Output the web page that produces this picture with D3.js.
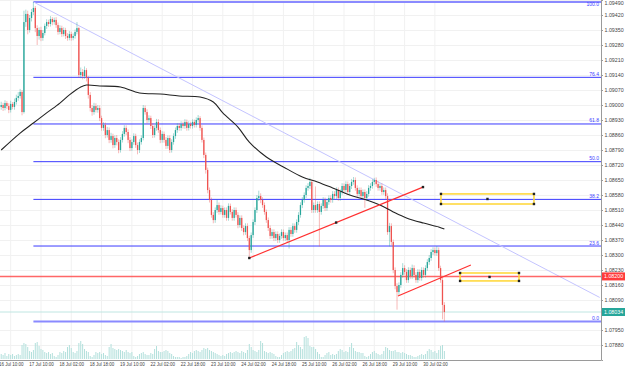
<!DOCTYPE html>
<html><head><meta charset="utf-8">
<script src="https://cdn.jsdelivr.net/npm/d3@7"></script>
<style>body{margin:0;background:#fff}svg{display:block}text{font-family:"Liberation Sans",Arial,sans-serif}</style>
</head><body><svg id="c" width="625" height="369"></svg>
<script>
// ---- data (EURUSD-like H1 bars) ----
const opens=[
1.08991,1.09000,1.08986,1.09009,1.08995,1.08977,1.09005,1.08991,1.09014,1.09033,
1.09042,1.09061,1.08967,1.09387,1.09425,1.09350,1.09406,1.09434,1.09453,1.09359,
1.09322,1.09350,1.09313,1.09336,1.09369,1.09387,1.09378,1.09401,1.09387,1.09397,
1.09373,1.09341,1.09359,1.09331,1.09350,1.09322,1.09313,1.09331,1.09313,1.09322,
1.09341,1.09359,1.09140,1.09154,1.09135,1.09163,1.09126,1.09047,1.08986,1.08967,
1.08995,1.08977,1.08986,1.08939,1.08893,1.08907,1.08860,1.08883,1.08837,1.08855,
1.08813,1.08846,1.08827,1.08790,1.08837,1.08865,1.08893,1.08874,1.08837,1.08799,
1.08827,1.08855,1.08813,1.08790,1.08827,1.08846,1.08986,1.08967,1.08930,1.08939,
1.08902,1.08860,1.08893,1.08921,1.08883,1.08837,1.08865,1.08837,1.08809,1.08846,
1.08790,1.08827,1.08855,1.08883,1.08902,1.08893,1.08911,1.08902,1.08921,1.08893,
1.08911,1.08902,1.08921,1.08907,1.08930,1.08939,1.08893,1.08837,1.08767,1.08697,
1.08603,1.08557,1.08487,1.08463,1.08510,1.08533,1.08501,1.08519,1.08487,1.08510,
1.08473,1.08529,1.08501,1.08473,1.08510,1.08487,1.08440,1.08473,1.08426,1.08407,
1.08435,1.08379,1.08323,1.08393,1.08454,1.08510,1.08566,1.08575,1.08557,1.08533,
1.08501,1.08463,1.08426,1.08389,1.08407,1.08379,1.08398,1.08370,1.08389,1.08407,
1.08379,1.08393,1.08370,1.08417,1.08398,1.08435,1.08417,1.08454,1.08487,1.08533,
1.08557,1.08580,1.08613,1.08622,1.08641,1.08510,1.08533,1.08510,1.08538,1.08501,
1.08529,1.08557,1.08519,1.08547,1.08566,1.08557,1.08585,1.08575,1.08603,1.08566,
1.08594,1.08622,1.08603,1.08631,1.08594,1.08622,1.08641,1.08650,1.08613,1.08585,
1.08603,1.08575,1.08594,1.08566,1.08585,1.08613,1.08622,1.08641,1.08650,1.08631,
1.08613,1.08622,1.08594,1.08603,1.08575,1.08407,1.08435,1.08361,1.08230,1.08155,
1.08127,1.08160,1.08207,1.08239,1.08221,1.08183,1.08230,1.08202,1.08239,1.08207,
1.08183,1.08221,1.08193,1.08230,1.08207,1.08239,1.08267,1.08286,1.08314,1.08323,
1.08309,1.08323,1.08239,1.08183,1.08067];
const highs=[
1.09015,1.09010,1.09022,1.09018,1.09008,1.09020,1.09014,1.09030,1.09048,1.09060,
1.09075,1.09070,1.09440,1.09445,1.09440,1.09420,1.09448,1.09481,1.09462,1.09372,
1.09362,1.09365,1.09350,1.09380,1.09400,1.09398,1.09415,1.09410,1.09408,1.09410,
1.09385,1.09372,1.09370,1.09362,1.09360,1.09335,1.09345,1.09342,1.09334,1.09352,
1.09387,1.09365,1.09175,1.09168,1.09180,1.09172,1.09135,1.09060,1.09000,1.09010,
1.09008,1.09000,1.08998,1.08950,1.08920,1.08918,1.08898,1.08895,1.08870,1.08866,
1.08858,1.08860,1.08840,1.08850,1.08878,1.08906,1.08905,1.08886,1.08850,1.08840,
1.08868,1.08866,1.08825,1.08840,1.08858,1.09000,1.08998,1.08980,1.08952,1.08950,
1.08915,1.08905,1.08935,1.08934,1.08895,1.08878,1.08876,1.08850,1.08858,1.08858,
1.08840,1.08868,1.08895,1.08915,1.08914,1.08924,1.08922,1.08934,1.08932,1.08924,
1.08922,1.08933,1.08932,1.08942,1.08953,1.08948,1.08905,1.08848,1.08778,1.08708,
1.08615,1.08568,1.08500,1.08522,1.08560,1.08545,1.08532,1.08530,1.08522,1.08522,
1.08541,1.08540,1.08514,1.08522,1.08522,1.08500,1.08485,1.08485,1.08438,1.08448,
1.08448,1.08390,1.08405,1.08466,1.08522,1.08580,1.08600,1.08588,1.08570,1.08545,
1.08512,1.08475,1.08438,1.08420,1.08420,1.08410,1.08410,1.08400,1.08420,1.08419,
1.08405,1.08405,1.08430,1.08430,1.08448,1.08447,1.08466,1.08500,1.08546,1.08570,
1.08592,1.08625,1.08635,1.08660,1.08652,1.08545,1.08620,1.08550,1.08550,1.08541,
1.08570,1.08568,1.08560,1.08578,1.08578,1.08598,1.08598,1.08616,1.08615,1.08606,
1.08635,1.08634,1.08644,1.08643,1.08634,1.08655,1.08664,1.08662,1.08625,1.08615,
1.08615,1.08606,1.08606,1.08598,1.08626,1.08635,1.08654,1.08660,1.08662,1.08643,
1.08634,1.08634,1.08615,1.08615,1.08588,1.08450,1.08448,1.08372,1.08242,1.08168,
1.08172,1.08220,1.08262,1.08252,1.08234,1.08243,1.08242,1.08255,1.08252,1.08220,
1.08234,1.08233,1.08243,1.08242,1.08252,1.08280,1.08300,1.08327,1.08336,1.08335,
1.08342,1.08335,1.08250,1.08195,1.08080];
const lows=[
1.08978,1.08972,1.08975,1.08982,1.08962,1.08965,1.08980,1.08978,1.09002,1.09020,
1.09030,1.08952,1.08960,1.09365,1.09330,1.09338,1.09390,1.09420,1.09340,1.09280,
1.09305,1.09298,1.09300,1.09325,1.09355,1.09365,1.09366,1.09372,1.09375,1.09360,
1.09328,1.09330,1.09318,1.09320,1.09308,1.09300,1.09302,1.09300,1.09302,1.09310,
1.09330,1.09128,1.09125,1.09120,1.09122,1.09110,1.09030,1.08970,1.08950,1.08955,
1.08965,1.08964,1.08925,1.08880,1.08880,1.08845,1.08848,1.08822,1.08824,1.08798,
1.08800,1.08812,1.08775,1.08778,1.08825,1.08852,1.08860,1.08822,1.08785,1.08786,
1.08814,1.08800,1.08770,1.08776,1.08815,1.08835,1.08955,1.08915,1.08918,1.08888,
1.08846,1.08848,1.08880,1.08870,1.08822,1.08824,1.08824,1.08795,1.08796,1.08776,
1.08778,1.08815,1.08842,1.08870,1.08880,1.08880,1.08890,1.08889,1.08880,1.08881,
1.08890,1.08890,1.08895,1.08895,1.08918,1.08880,1.08825,1.08752,1.08680,1.08588,
1.08545,1.08474,1.08448,1.08450,1.08497,1.08488,1.08489,1.08474,1.08474,1.08460,
1.08460,1.08489,1.08460,1.08460,1.08475,1.08425,1.08428,1.08412,1.08392,1.08394,
1.08365,1.08286,1.08310,1.08380,1.08440,1.08496,1.08552,1.08542,1.08520,1.08488,
1.08450,1.08412,1.08375,1.08376,1.08365,1.08366,1.08356,1.08357,1.08376,1.08366,
1.08366,1.08356,1.08330,1.08385,1.08385,1.08404,1.08404,1.08440,1.08474,1.08519,
1.08544,1.08566,1.08600,1.08608,1.08496,1.08497,1.08497,1.08497,1.08340,1.08488,
1.08516,1.08505,1.08506,1.08534,1.08544,1.08544,1.08562,1.08562,1.08553,1.08553,
1.08581,1.08590,1.08590,1.08580,1.08580,1.08608,1.08628,1.08600,1.08572,1.08572,
1.08562,1.08562,1.08520,1.08553,1.08572,1.08600,1.08609,1.08628,1.08618,1.08600,
1.08600,1.08581,1.08581,1.08562,1.08394,1.08340,1.08345,1.08215,1.08140,1.08045,
1.08114,1.08147,1.08194,1.08208,1.08170,1.08170,1.08189,1.08189,1.08194,1.08170,
1.08170,1.08180,1.08180,1.08194,1.08194,1.08226,1.08254,1.08273,1.08300,1.08296,
1.08296,1.08226,1.08170,1.08000,1.07990];
const closes=[
1.09000,1.08986,1.09009,1.08995,1.08977,1.09005,1.08991,1.09014,1.09033,1.09042,
1.09061,1.08967,1.09387,1.09425,1.09350,1.09406,1.09434,1.09453,1.09359,1.09322,
1.09350,1.09313,1.09336,1.09369,1.09387,1.09378,1.09401,1.09387,1.09397,1.09373,
1.09341,1.09359,1.09331,1.09350,1.09322,1.09313,1.09331,1.09313,1.09322,1.09341,
1.09359,1.09140,1.09154,1.09135,1.09163,1.09126,1.09047,1.08986,1.08967,1.08995,
1.08977,1.08986,1.08939,1.08893,1.08907,1.08860,1.08883,1.08837,1.08855,1.08813,
1.08846,1.08827,1.08790,1.08837,1.08865,1.08893,1.08874,1.08837,1.08799,1.08827,
1.08855,1.08813,1.08790,1.08827,1.08846,1.08986,1.08967,1.08930,1.08939,1.08902,
1.08860,1.08893,1.08921,1.08883,1.08837,1.08865,1.08837,1.08809,1.08846,1.08790,
1.08827,1.08855,1.08883,1.08902,1.08893,1.08911,1.08902,1.08921,1.08893,1.08911,
1.08902,1.08921,1.08907,1.08930,1.08939,1.08893,1.08837,1.08767,1.08697,1.08603,
1.08557,1.08487,1.08463,1.08510,1.08533,1.08501,1.08519,1.08487,1.08510,1.08473,
1.08529,1.08501,1.08473,1.08510,1.08487,1.08440,1.08473,1.08426,1.08407,1.08435,
1.08379,1.08323,1.08393,1.08454,1.08510,1.08566,1.08575,1.08557,1.08533,1.08501,
1.08463,1.08426,1.08389,1.08407,1.08379,1.08398,1.08370,1.08389,1.08407,1.08379,
1.08393,1.08370,1.08417,1.08398,1.08435,1.08417,1.08454,1.08487,1.08533,1.08557,
1.08580,1.08613,1.08622,1.08641,1.08510,1.08533,1.08510,1.08538,1.08501,1.08529,
1.08557,1.08519,1.08547,1.08566,1.08557,1.08585,1.08575,1.08603,1.08566,1.08594,
1.08622,1.08603,1.08631,1.08594,1.08622,1.08641,1.08650,1.08613,1.08585,1.08603,
1.08575,1.08594,1.08566,1.08585,1.08613,1.08622,1.08641,1.08650,1.08631,1.08613,
1.08622,1.08594,1.08603,1.08575,1.08407,1.08435,1.08361,1.08230,1.08155,1.08127,
1.08160,1.08207,1.08239,1.08221,1.08183,1.08230,1.08202,1.08239,1.08207,1.08183,
1.08221,1.08193,1.08230,1.08207,1.08239,1.08267,1.08286,1.08314,1.08323,1.08309,
1.08323,1.08239,1.08183,1.08067,1.08034];
const volumes=[
500,400,600,300,500,400,500,300,400,500,400,1400,1600,1500,1200,800,700,900,1600,1700,
1300,1000,900,700,600,700,500,600,300,200,400,700,600,800,700,1200,1400,1100,700,600,
800,1600,1800,1500,1000,800,700,300,200,400,700,600,700,500,600,400,300,1200,1500,1100,
1000,900,1000,900,800,700,900,700,600,700,300,200,300,500,600,700,500,400,400,600,
500,1000,1300,800,700,700,800,900,800,600,500,300,200,200,200,100,200,200,300,500,
700,600,800,900,800,700,900,1100,1000,1100,900,800,700,600,500,400,300,400,300,500,
600,700,600,700,800,700,600,800,700,600,900,1500,1200,900,800,700,900,1800,1600,800,
700,600,700,600,500,300,200,200,400,600,700,800,700,800,1000,1100,1700,1400,1200,1000,
2200,2300,2100,1300,1200,1200,1000,700,500,200,200,400,600,700,400,500,400,500,800,1000,
900,700,800,700,1200,1600,1100,800,700,700,600,600,300,200,300,500,700,800,600,500,
400,500,800,1200,1100,900,800,800,900,700,700,600,700,600,500,400,400,300,200,200,
300,400,500,400,500,800,1000,900,700,800,600,900,1300,1400,800];
// moving average (read at sampled bars)
const maIndex=[0,10,17,24,31,36,42,45,52,63,73,84,94,105,112,117,125,131,140,149,159,167,175,184,193,200,207,214,223,231,234];
const maValues=[1.08790,1.08869,1.08916,1.08963,1.09009,1.09047,1.09084,1.09093,1.09089,1.09084,1.09056,1.09051,1.09042,1.09037,1.09014,1.08963,1.08897,1.08827,1.08757,1.08711,1.08664,1.08641,1.08613,1.08580,1.08557,1.08533,1.08501,1.08473,1.08449,1.08431,1.08421];
const priceTicks=[1.09490,1.09420,1.09350,1.09280,1.09210,1.09140,1.09070,1.09000,1.08930,1.08860,1.08790,1.08720,1.08650,1.08580,1.08510,1.08440,1.08370,1.08300,1.08230,1.08160,1.08090,1.07950,1.07880];
const timeLabels=["16 Jul 10:00","17 Jul 10:00","18 Jul 02:00","18 Jul 18:00","19 Jul 10:00","22 Jul 02:00","22 Jul 18:00","23 Jul 10:00","24 Jul 02:00","24 Jul 18:00","25 Jul 10:00","26 Jul 02:00","26 Jul 18:00","29 Jul 10:00","30 Jul 02:00"];
const timeIndex=[5,21,37,53,69,85,101,117,133,149,165,181,197,213,229];
const fibRatios=[1,0.764,0.618,0.5,0.382,0.236,0];
const fibLabels=["100.0","76.4","61.8","50.0","38.2","23.6","0.0"];
const fibHigh=1.09481, fibLow=1.07990, fibStartIndex=17;
const trendLine=[[17,1.09481],[316,1.08102]];
const redSegments=[[[131,1.08286],[222.7,1.08617]],[[209.5,1.08109],[248,1.08253]]];
const boxes=[[232.2,281.3,1.08585,1.08538],[242.3,273.4,1.08216,1.08179]];
const alertPrice=1.08200, bidPrice=1.08034;

// ---- drawing ----
const svg=d3.select("#c");
const plotR=601, plotB=360;
const x=d3.scaleLinear().domain([-0.634,316.7]).range([0,plotR]);
const y=d3.scaleLinear().domain([1.07810,1.09490]).range([plotB,0]);
const vy=d3.scaleLinear().domain([0,2300]).range([359,336]);
const f5=d3.format(".5f");

svg.append("defs").append("clipPath").attr("id","clip").append("rect").attr("x",0).attr("y",0).attr("width",plotR).attr("height",plotB);
const g=svg.append("g").attr("clip-path","url(#clip)");

// grid
g.selectAll(".vg").data(timeIndex).join("line").attr("x1",d=>x(d)).attr("x2",d=>x(d)).attr("y1",0).attr("y2",plotB).attr("stroke","#f1f1f1").attr("stroke-width",1);
g.selectAll(".hg").data(priceTicks).join("line").attr("x1",0).attr("x2",plotR).attr("y1",d=>Math.round(y(d))+0.5).attr("y2",d=>Math.round(y(d))+0.5).attr("stroke","#f1f1f1").attr("stroke-width",1);

// volumes
g.selectAll(".vol").data(volumes).join("rect").attr("x",(d,i)=>x(i)-0.5).attr("width",1).attr("y",d=>vy(d)).attr("height",d=>vy(0)-vy(d)).attr("fill","#b3e0dc");

// fib levels
fibRatios.forEach((r,k)=>{
  const p=fibLow+r*(fibHigh-fibLow);
  const yy=y(p);
  const edge=(r===0||r===1);
  g.append("line").attr("x1",x(fibStartIndex)).attr("x2",plotR).attr("y1",yy).attr("y2",yy)
   .attr("stroke",edge?"#8a8aff":"#3a3aff").attr("stroke-width",edge?2:1);
  g.append("text").attr("x",599).attr("y",Math.max(yy-1.5,5.5)).attr("text-anchor","end").attr("font-size",5).attr("fill","#4040ff").text(fibLabels[k]);
});

// trend line
g.append("line").attr("x1",x(trendLine[0][0])).attr("y1",y(trendLine[0][1])).attr("x2",x(trendLine[1][0])).attr("y2",y(trendLine[1][1])).attr("stroke","#c4c4ff").attr("stroke-width",1);

// bid / alert lines
g.append("line").attr("x1",0).attr("x2",plotR).attr("y1",y(bidPrice)).attr("y2",y(bidPrice)).attr("stroke","#bfe6e2").attr("stroke-width",1);
g.append("line").attr("x1",0).attr("x2",plotR).attr("y1",y(alertPrice)).attr("y2",y(alertPrice)).attr("stroke","#ff4d4d").attr("stroke-width",1.6).attr("opacity",0.85);

// candles
const up="#26a69a", dn="#ef5350";
const idx=d3.range(closes.length);
g.selectAll(".wick").data(idx).join("line").attr("x1",i=>x(i)).attr("x2",i=>x(i)).attr("y1",i=>y(highs[i])).attr("y2",i=>y(lows[i]))
 .attr("stroke",i=>closes[i]>=opens[i]?up:dn).attr("stroke-width",0.8).attr("opacity",0.5);
g.selectAll(".body").data(idx).join("rect").attr("x",i=>x(i)-0.65).attr("width",1.3)
 .attr("y",i=>y(Math.max(opens[i],closes[i]))).attr("height",i=>Math.max(0.8,Math.abs(y(opens[i])-y(closes[i]))))
 .attr("fill",i=>closes[i]>=opens[i]?up:dn);

// moving average
g.append("path").datum(maIndex.map((d,k)=>[d,maValues[k]]))
 .attr("d",d3.line().x(d=>x(d[0])).y(d=>y(d[1])).curve(d3.curveCatmullRom))
 .attr("fill","none").attr("stroke","#222").attr("stroke-width",1.1);

// red segments
redSegments.forEach((s,k)=>{
  g.append("line").attr("x1",x(s[0][0])).attr("y1",y(s[0][1])).attr("x2",x(s[1][0])).attr("y2",y(s[1][1])).attr("stroke","#ff3030").attr("stroke-width",1.2);
  if(k===0){
    const pts=[s[0],s[1],[(s[0][0]+s[1][0])/2,(s[0][1]+s[1][1])/2]];
    pts.forEach(p=>g.append("rect").attr("x",x(p[0])-1.2).attr("y",y(p[1])-1.2).attr("width",2.4).attr("height",2.4).attr("fill","#222"));
  }
});

// boxes
boxes.forEach(b=>{
  const x0=x(b[0]),x1=x(b[1]),y0=y(b[2]),y1=y(b[3]);
  g.append("rect").attr("x",x0).attr("y",y0).attr("width",x1-x0).attr("height",y1-y0).attr("fill","none").attr("stroke","#ffd633").attr("stroke-width",1.5);
  [[x0,y0],[x1,y0],[x0,y1],[x1,y1],[(x0+x1)/2,(y0+y1)/2]].forEach(p=>
    g.append("rect").attr("x",p[0]-1.2).attr("y",p[1]-1.2).attr("width",2.4).attr("height",2.4).attr("fill","#222"));
});

// right axis
const ra=svg.append("g").attr("transform",`translate(${plotR},0)`)
 .call(d3.axisRight(y).tickValues(priceTicks).tickFormat(f5).tickSize(2).tickPadding(1.5));
ra.select(".domain").attr("stroke","#9a9a9a");
ra.selectAll(".tick line").attr("stroke","#9a9a9a");
ra.selectAll("text").attr("font-size",5.3).attr("fill","#444").attr("font-family","'Liberation Sans',Arial,sans-serif");
ra.selectAll(".tick").filter(d=>y(d)<3).select("text").attr("dy","0.9em");

// bottom axis
const ba=svg.append("g").attr("transform",`translate(0,${plotB})`)
 .call(d3.axisBottom(x).tickValues(timeIndex).tickFormat((d,i)=>timeLabels[i]).tickSize(0).tickPadding(2.5));
ba.select(".domain").attr("stroke","#9a9a9a").attr("d",`M0,0.5H${plotR}`);
ba.selectAll("text").attr("font-size",4.5).attr("fill","#444").attr("font-family","'Liberation Sans',Arial,sans-serif");

// price tags
[[alertPrice,"#ff3b3b"],[bidPrice,"#26a69a"]].forEach(([p,c])=>{
  const yy=y(p);
  svg.append("rect").attr("x",plotR+1).attr("y",yy-4).attr("width",24).attr("height",8).attr("fill",c);
  svg.append("text").attr("x",plotR+3).attr("y",yy+2).attr("font-size",5.3).attr("fill","#fff").text(f5(p));
});
</script></body></html>
